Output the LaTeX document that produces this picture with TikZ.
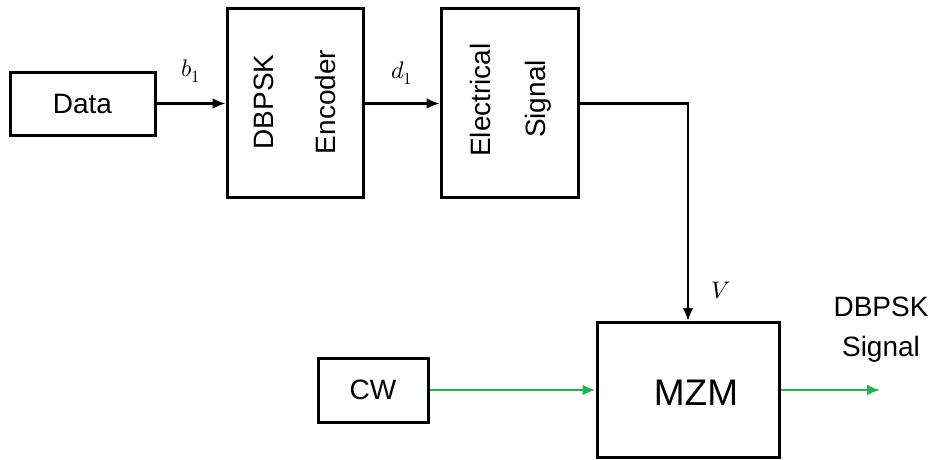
\documentclass[tikz,border=0pt]{standalone}
\usepackage{fontspec}
\usepackage{unicode-math}
\setmainfont{Liberation Sans}
\setmathfont{Latin Modern Math}
\usetikzlibrary{arrows.meta}
\definecolor{sgreen}{RGB}{34,177,76}
\tikzset{
  box/.style={draw, line width=3pt, inner sep=0pt, fill=white},
  arr/.style={line width=2.6pt, -{Latex[length=13pt,width=11pt]}},
  garr/.style={line width=2.6pt, draw=sgreen, -{Latex[length=13pt,width=11pt]}, sgreen},
  lbl/.style={font=\fontsize{28}{34}\selectfont, inner sep=0pt},
  mlbl/.style={font=\fontsize{24}{28}\selectfont, inner sep=0pt},
}
\begin{document}
\begin{tikzpicture}[x=1pt,y=-1pt]
\useasboundingbox (0,0) rectangle (935,459);
\node[box, minimum width=145pt, minimum height=63pt, lbl] (data) at (82.5,103.5) {Data};
\node[box, minimum width=136pt, minimum height=189pt] (enc) at (295,103) {};
\node[box, minimum width=137pt, minimum height=189pt] (elec) at (509.5,103) {};
\node[box, minimum width=182pt, minimum height=135pt] (mzm) at (688,390) {};
\node[box, minimum width=110pt, minimum height=64pt, lbl] (cw) at (373,390) {CW};
\node[lbl, rotate=90, anchor=base] (t1) at (273,102) {DBPSK};
\node[lbl, rotate=90, anchor=base] (t2) at (335,102) {Encoder};
\node[lbl, rotate=90, anchor=base] (t3) at (490,100) {Electrical};
\node[lbl, rotate=90, anchor=base] (t4) at (545,99) {Signal};
\node[inner sep=0pt, font=\fontsize{37}{40}\selectfont] (t5) at (696,393) {MZM};
\node[lbl, align=center, font=\fontsize{28}{40}\selectfont] (t6) at (881,330) {DBPSK\\Signal};
\draw[arr] (data.east) -- (data.east -| enc.west) node[midway, above=20pt, mlbl] (b1) {$b_1$};
\draw[arr] (enc.east |- data.east) -- (elec.west |- data.east) node[midway, above=18pt, mlbl] (d1) {$d_1$};
\draw[arr] (elec.east |- data.east) -| (mzm.north) node[pos=0.93, right=22pt, mlbl] (v) {$V$};
\draw[garr] (cw.east) -- (cw.east -| mzm.west);
\coordinate (out) at (880,390);
\draw[garr] (mzm.east) -- (out);
\end{tikzpicture}
\end{document}
